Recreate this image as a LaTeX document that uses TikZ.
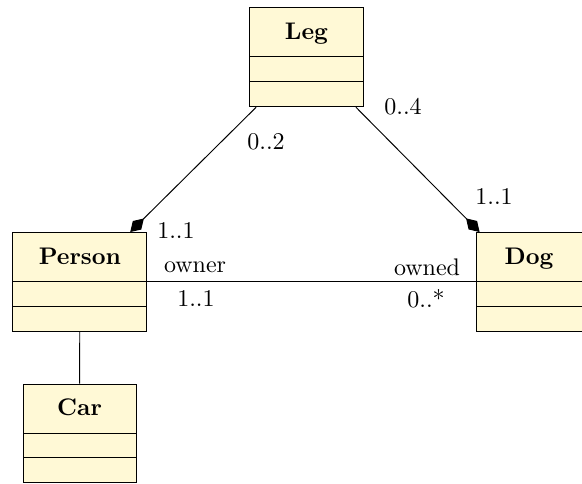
\documentclass[tikz,border=0pt]{standalone}
\usepackage{tikz}
\usetikzlibrary{shapes.multipart,arrows.meta}
\definecolor{classfill}{RGB}{255,249,214}
\tikzstyle{umlclass} = [rectangle split, rectangle split parts=3, draw, fill=classfill, inner ysep=0pt, rectangle split empty part height=10pt, rectangle split empty part depth=0pt]
\tikzstyle{comp} = [-{Diamond[length=8pt,width=5pt]}]
\newcommand{\classname}[1]{\rule[-7pt]{0pt}{20pt}\textbf{#1}}

\begin{document}
\begin{tikzpicture}
    \useasboundingbox (0,0) rectangle (8.526,-7.076);

    % Classes
    \node[umlclass, minimum width=47.9pt] (leg) at (4.49,-0.84) {\classname{Leg}\nodepart{two}\nodepart{three}};
    \node[umlclass, minimum width=55.8pt] (person) at (1.17,-4.13) {\classname{Person}\nodepart{two}\nodepart{three}};
    \node[umlclass, minimum width=44.2pt] (dog) at (7.75,-4.13) {\classname{Dog}\nodepart{two}\nodepart{three}};
    \node[umlclass, minimum width=47.1pt] (car) at (1.165,-6.35) {\classname{Car}\nodepart{two}\nodepart{three}};

    % Multiplicities and roles
    \node (legperson) at (3.897,-2.080) {0..2};
    \node (personleg) at (2.578,-3.384) {1..1};
    \node (legdog) at (5.904,-1.568) {0..4};
    \node (dogleg) at (7.237,-2.886) {1..1};
    \node (owner) at (2.857,-3.912) {owner};
    \node (ownermult) at (2.871,-4.380) {1..1};
    \node (owned) at (6.256,-3.912) {owned};
    \node (ownedmult) at (6.241,-4.380) {0..*};

    % Relations
    \draw[comp] (leg) -- (person);
    \draw[comp] (leg) -- (dog);
    \draw (person) -- (dog);
    \draw (person) -- (car);
\end{tikzpicture}
\end{document}
